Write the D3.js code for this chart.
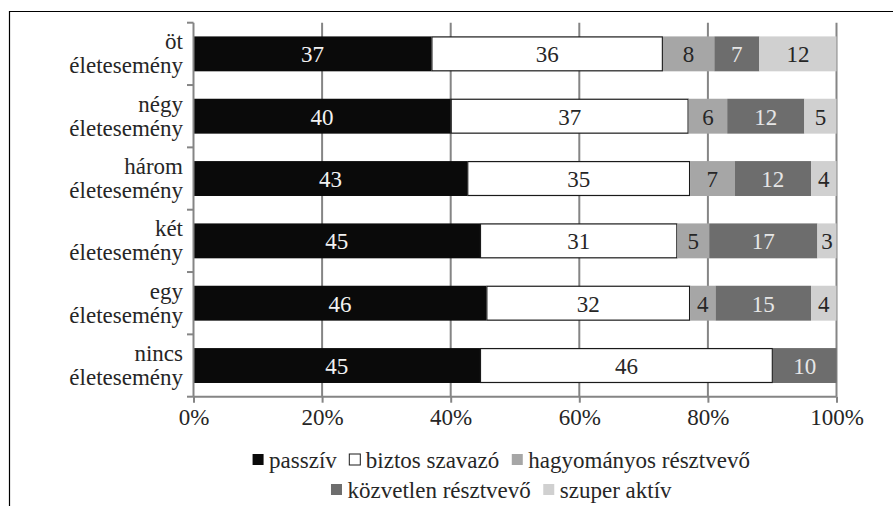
<!DOCTYPE html>
<html><head><meta charset="utf-8">
<script src="https://cdn.jsdelivr.net/npm/d3@7"></script>
<style>body{margin:0;background:#fff}svg{display:block}</style>
</head><body><svg id="c" width="893" height="506"></svg>
<script>
const categories = [["öt","életesemény"],["négy","életesemény"],["három","életesemény"],["két","életesemény"],["egy","életesemény"],["nincs","életesemény"]];
const seriesNames = ["passzív","biztos szavazó","hagyományos résztvevő","közvetlen résztvevő","szuper aktív"];
const passziv     = [37,40,43,45,46,45];
const biztos      = [36,37,35,31,32,46];
const hagyomanyos = [8,6,7,5,4,0];
const kozvetlen   = [7,12,12,17,15,10];
const szuper      = [12,5,4,3,4,0];
const xTicks = [0,0.2,0.4,0.6,0.8,1];

const fills = ["#0a0a0a","#ffffff","#a6a6a6","#6d6d6d","#d0d0d0"];
const labelColors = ["#f2f2f2","#262626","#262626","#e6e6e6","#262626"];
const FS = 23;
const FF = "Liberation Serif";

const svg = d3.select("#c");
const seriesVals = [passziv,biztos,hagyomanyos,kozvetlen,szuper];
const keys = categories.map(c=>c.join(" "));
const rows = keys.map((k,i)=>{const o={key:k};seriesNames.forEach((s,j)=>o[s]=seriesVals[j][i]);return o;});
const stack = d3.stack().keys(seriesNames).offset(d3.stackOffsetExpand);
const layers = stack(rows);

const x = d3.scaleLinear().domain([0,1]).range([193.5,836.5]);
const y = d3.scaleBand().domain(keys).range([22.7,396.7]).paddingInner(0.44).paddingOuter(0.22);

// frame
svg.append("path").attr("d","M9.5,506V11.5H893").attr("fill","none").attr("stroke","#000").attr("stroke-width",1.2);

// gridlines
svg.append("g").selectAll("line").data(xTicks.slice(1)).join("line")
  .attr("x1",d=>x(d)).attr("x2",d=>x(d)).attr("y1",22.7).attr("y2",396.7)
  .attr("stroke","#858585").attr("stroke-width",2);

// bars
const g = svg.append("g");
layers.forEach((layer,si)=>{
  g.append("g").selectAll("rect").data(layer).join("rect")
    .attr("x",d=>x(d[0])+ (si===1?0.5:0)).attr("y",d=>y(d.data.key)+(si===1?0.5:0))
    .attr("width",d=>Math.max(0,x(d[1])-x(d[0])-(si===1?1:0)))
    .attr("height",y.bandwidth()-(si===1?1:0))
    .attr("fill",fills[si]).attr("stroke",si===1?"#1a1a1a":"none").attr("stroke-width",1.2);
  g.append("g").selectAll("text").data(layer.filter(d=>d.data[seriesNames[si]]>0)).join("text")
    .attr("x",d=>(x(d[0])+x(d[1]))/2).attr("y",d=>y(d.data.key)+y.bandwidth()/2+1)
    .attr("text-anchor","middle").attr("dominant-baseline","central")
    .attr("font-family",FF).attr("font-size",FS).attr("fill",labelColors[si])
    .text(d=>d.data[seriesNames[si]]);
});

// y axis
svg.append("line").attr("x1",193.5).attr("x2",193.5).attr("y1",22.7).attr("y2",396.7).attr("stroke","#858585").attr("stroke-width",2);
const bounds = keys.map(k=>y(k)-y.step()*y.paddingInner()/2).concat([396.7]);
svg.append("g").selectAll("line").data(bounds).join("line")
  .attr("x1",187).attr("x2",193.5).attr("y1",d=>d).attr("y2",d=>d)
  .attr("stroke","#858585").attr("stroke-width",2);
// category labels
const cl = svg.append("g").selectAll("text").data(categories).join("text")
  .attr("text-anchor","end").attr("font-family",FF).attr("font-size",FS).attr("fill","#262626");
cl.each(function(c,i){
  const cy = y(keys[i])+y.bandwidth()/2;
  d3.select(this).selectAll("tspan").data(c).join("tspan")
    .attr("x",183).attr("y",(d,j)=>cy+(j===0?-12:12)).attr("dominant-baseline","central").text(d=>d);
});

// x axis
const xAxis = d3.axisBottom(x).tickValues(xTicks).tickFormat(d3.format(".0%")).tickSize(6).tickPadding(10);
const xa = svg.append("g").attr("transform","translate(0,396.7)").call(xAxis);
xa.attr("font-family",FF);
xa.select(".domain").attr("stroke","#858585").attr("stroke-width",2).attr("d","M193.5,0H836.5");
xa.selectAll(".tick line").attr("stroke","#858585").attr("stroke-width",2);
xa.selectAll(".tick text").attr("font-size",FS).attr("fill","#262626").attr("font-family",FF).attr("dy","0.55em");

// legend
const legendRows = [[0,1,2],[3,4]];
const legY = [460,490];
legendRows.forEach((r,ri)=>{
  const lg = svg.append("g");
  let cx = 0;
  r.forEach((si,k)=>{
    const it = lg.append("g").attr("transform",`translate(${cx},0)`);
    it.append("rect").attr("x",0.5).attr("y",-6).attr("width",11).attr("height",11)
      .attr("fill",fills[si]).attr("stroke",si===1?"#1a1a1a":"none");
    const t = it.append("text").attr("x",17).attr("y",0).attr("dominant-baseline","central")
      .attr("font-family",FF).attr("font-size",FS).attr("fill","#262626").text(seriesNames[si]);
    cx += 17 + t.node().getComputedTextLength() + 12;
  });
  const w = cx - 12;
  lg.attr("transform",`translate(${501 - w/2},${legY[ri]})`);
});
</script></body></html>
